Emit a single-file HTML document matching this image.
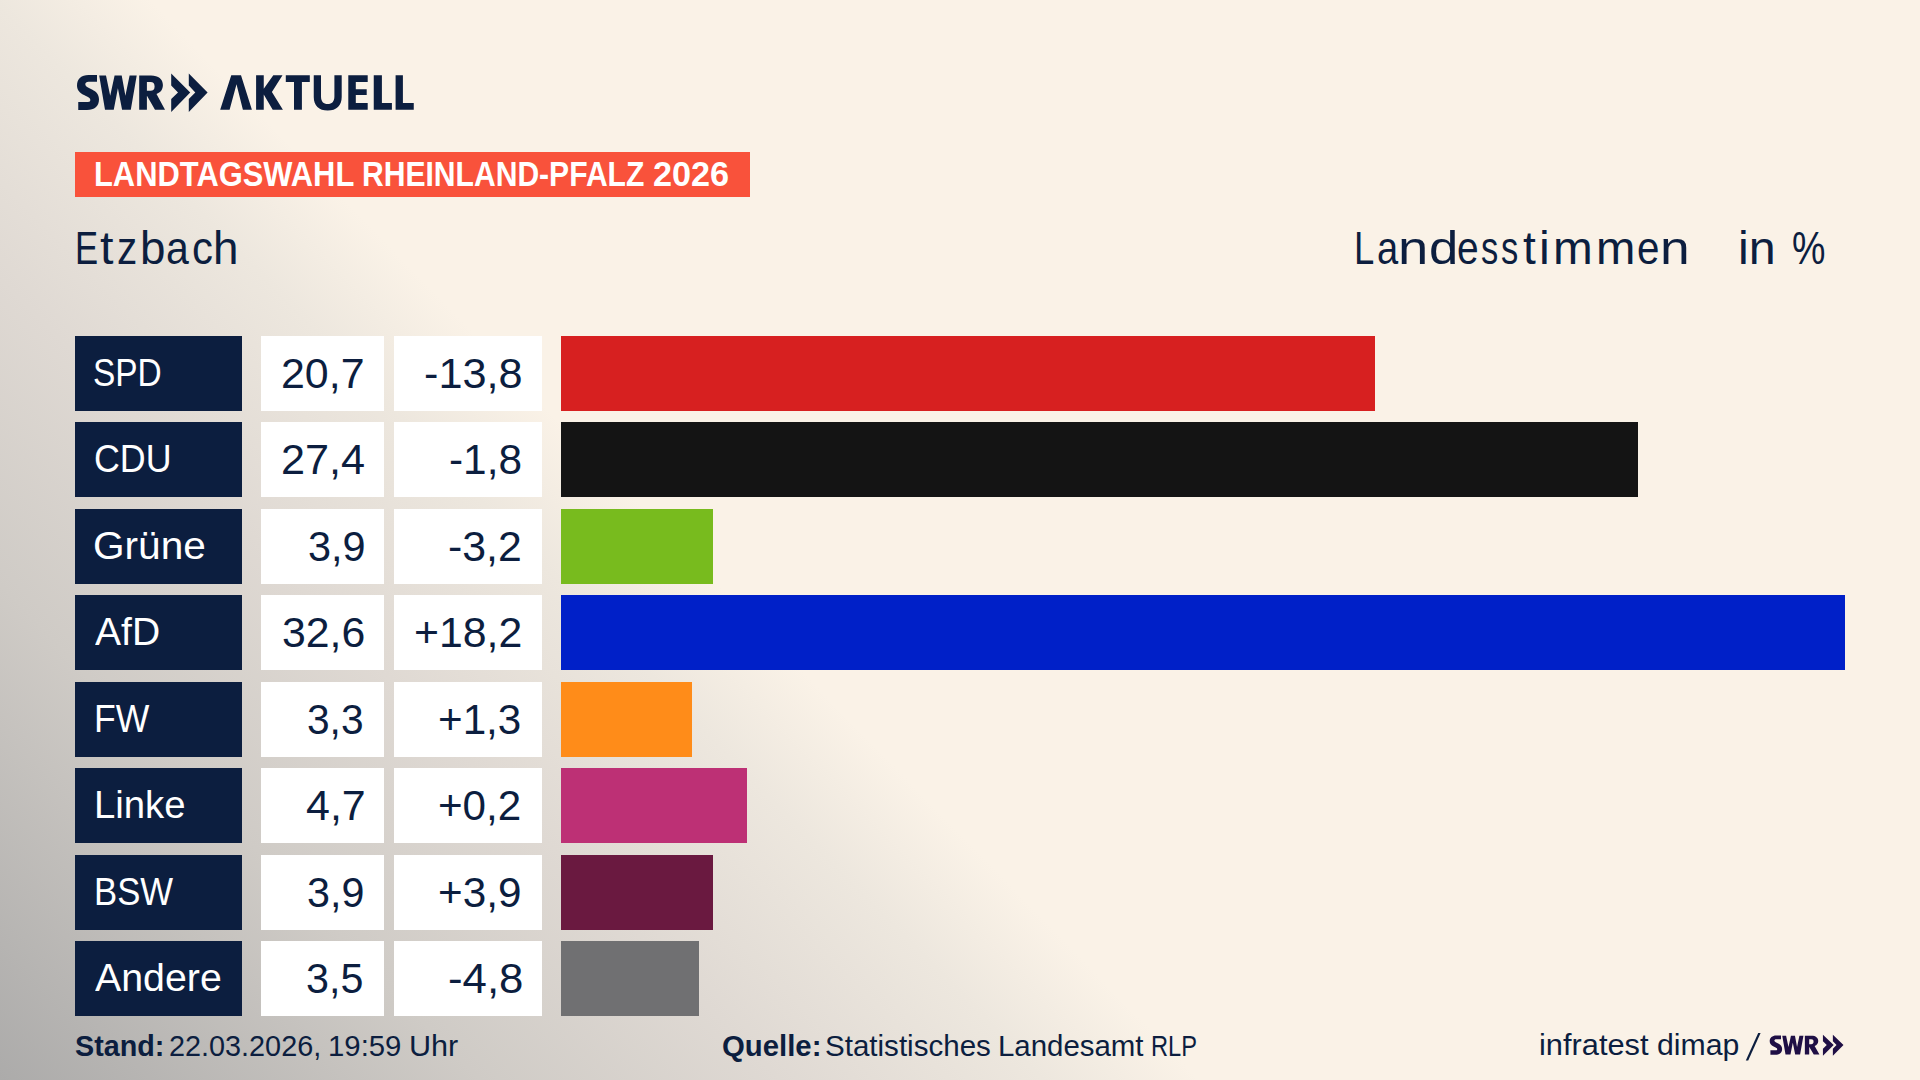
<!DOCTYPE html>
<html><head><meta charset="utf-8">
<style>
html,body{margin:0;padding:0;}
body{width:1920px;height:1080px;overflow:hidden;position:relative;font-family:"Liberation Sans",sans-serif;color:#0c1e3f;background:#faf2e7;}
.bg{position:absolute;left:0;top:0;width:1920px;height:1080px;}
.a{position:absolute;white-space:nowrap;line-height:1;transform-origin:0 0;}
.box{position:absolute;}
</style></head><body>
<svg class="bg" width="1920" height="1080" viewBox="0 0 1920 1080">
<defs>
<linearGradient id="g1" x1="150" y1="0" x2="-466.6" y2="599.4" gradientUnits="userSpaceOnUse">
<stop offset="0" stop-color="#faf2e7"/>
<stop offset="0.13" stop-color="#ede7de"/>
<stop offset="0.35" stop-color="#dfd9d3"/>
<stop offset="0.6" stop-color="#cfcbc6"/>
<stop offset="1" stop-color="#acabaa"/>
</linearGradient>
</defs>
<rect width="1920" height="1080" fill="url(#g1)"/>
</svg>
<svg class="a" style="left:0;top:0" width="500" height="140" viewBox="0 0 500 140">
<g fill="#0c1e3f">
<path d="M97,75 L97,81.7 L88.5,81.7 C86.5,81.7 85.3,82.8 85.3,84.3 C85.3,86 86.5,86.8 88.5,87.8 L92,89.5 C96.5,91.8 99,94.5 99,99.5 C99,106 94.5,110 87,110 L78.25,110 L78.25,102 L88,102 C89.8,102 90.3,101 90.3,100 C90.3,98.5 89.5,97.8 87.5,96.8 L84,95 C79.5,92.8 77,90 77,85.5 C77,79 81.5,75 88.5,75 Z"/>
<path d="M99.2,75.4 L106,75.4 L110.2,95.8 L114.6,75.4 L121.7,75.4 L125.4,95.8 L129.6,75.4 L136.7,75.4 L130.8,109.8 L122.1,109.8 L117.9,88.3 L113.75,109.8 L105,109.8 Z"/>
<path fill-rule="evenodd" d="M139.2,75.4 L151,75.4 C158.5,75.4 162.9,79 162.9,85 C162.9,89.5 160.5,92.5 156.5,94 L165,109.8 L155,109.8 L147.1,96 L146.9,96 L146.9,109.8 L139.2,109.8 Z M146.9,82.1 L146.9,90.8 L150.5,90.8 C153.2,90.8 154.6,89.3 154.6,86.4 C154.6,83.6 153.2,82.1 150.5,82.1 Z"/>
<path d="M171.2,73.6 L190.2,92.5 L171.2,111.9 L171.2,99 L178,92.5 L171.2,85.6 Z"/>
<path d="M188.8,73.6 L207.6,92.5 L188.8,111.9 L188.8,99 L195.3,92.5 L188.8,85.6 Z"/>
<path d="M220.2,109.8 L231.25,75.2 L241,75.2 L251.9,109.8 L242.9,109.8 L236.5,84.2 L229.6,109.8 Z"/>
<path d="M256.1,75.2 L263.75,75.2 L263.75,88.75 L273.3,75.2 L282.5,75.2 L271.9,92.1 L282.9,109.8 L272.7,109.8 L263.75,94.6 L263.75,109.8 L256.1,109.8 Z"/>
<path d="M285.8,75.2 L309.8,75.2 L309.8,81.9 L301.9,81.9 L301.9,109.8 L294,109.8 L294,81.9 L285.8,81.9 Z"/>
<path d="M313.75,75.2 L321,75.2 L321,96.5 C321,101.5 323.5,104 327.7,104 C331.9,104 334.4,101.5 334.4,96.5 L334.4,75.2 L341.7,75.2 L341.7,97 C341.7,105.5 336.5,110.6 327.7,110.6 C318.9,110.6 313.75,105.5 313.75,97 Z"/>
<path d="M348.3,75.2 L367.7,75.2 L367.7,81.9 L355.8,81.9 L355.8,89.2 L366.7,89.2 L366.7,95 L355.8,95 L355.8,103.1 L367.7,103.1 L367.7,109.8 L348.3,109.8 Z"/>
<path d="M373.75,75.2 L381.9,75.2 L381.9,103.1 L391.9,103.1 L391.9,109.8 L373.75,109.8 Z"/>
<path d="M395.6,75.2 L402.9,75.2 L402.9,103.1 L413.75,103.1 L413.75,109.8 L395.6,109.8 Z"/>
</g>
</svg>
<div class="box" style="left:75px;top:152px;width:675px;height:45px;background:#f9523b"></div>
<div class="box" style="left:75px;top:336px;width:167px;height:75px;background:#0c1e3f"></div><div class="box" style="left:261px;top:336px;width:123px;height:75px;background:#fff"></div><div class="box" style="left:394px;top:336px;width:148px;height:75px;background:#fff"></div><div class="box" style="left:561px;top:336px;width:814px;height:75px;background:#d72020"></div>
<div class="box" style="left:75px;top:422px;width:167px;height:75px;background:#0c1e3f"></div><div class="box" style="left:261px;top:422px;width:123px;height:75px;background:#fff"></div><div class="box" style="left:394px;top:422px;width:148px;height:75px;background:#fff"></div><div class="box" style="left:561px;top:422px;width:1077px;height:75px;background:#141414"></div>
<div class="box" style="left:75px;top:509px;width:167px;height:75px;background:#0c1e3f"></div><div class="box" style="left:261px;top:509px;width:123px;height:75px;background:#fff"></div><div class="box" style="left:394px;top:509px;width:148px;height:75px;background:#fff"></div><div class="box" style="left:561px;top:509px;width:152px;height:75px;background:#78bb1e"></div>
<div class="box" style="left:75px;top:595px;width:167px;height:75px;background:#0c1e3f"></div><div class="box" style="left:261px;top:595px;width:123px;height:75px;background:#fff"></div><div class="box" style="left:394px;top:595px;width:148px;height:75px;background:#fff"></div><div class="box" style="left:561px;top:595px;width:1284px;height:75px;background:#0020c8"></div>
<div class="box" style="left:75px;top:682px;width:167px;height:75px;background:#0c1e3f"></div><div class="box" style="left:261px;top:682px;width:123px;height:75px;background:#fff"></div><div class="box" style="left:394px;top:682px;width:148px;height:75px;background:#fff"></div><div class="box" style="left:561px;top:682px;width:131px;height:75px;background:#ff8c19"></div>
<div class="box" style="left:75px;top:768px;width:167px;height:75px;background:#0c1e3f"></div><div class="box" style="left:261px;top:768px;width:123px;height:75px;background:#fff"></div><div class="box" style="left:394px;top:768px;width:148px;height:75px;background:#fff"></div><div class="box" style="left:561px;top:768px;width:186px;height:75px;background:#bd3075"></div>
<div class="box" style="left:75px;top:855px;width:167px;height:75px;background:#0c1e3f"></div><div class="box" style="left:261px;top:855px;width:123px;height:75px;background:#fff"></div><div class="box" style="left:394px;top:855px;width:148px;height:75px;background:#fff"></div><div class="box" style="left:561px;top:855px;width:152px;height:75px;background:#6a1940"></div>
<div class="box" style="left:75px;top:941px;width:167px;height:75px;background:#0c1e3f"></div><div class="box" style="left:261px;top:941px;width:123px;height:75px;background:#fff"></div><div class="box" style="left:394px;top:941px;width:148px;height:75px;background:#fff"></div><div class="box" style="left:561px;top:941px;width:138px;height:75px;background:#707072"></div>
<div class="a" id="p0" style="left:93.37px;top:353.42px;font-size:39.2px;color:#fff;transform:scaleX(0.8534);">SPD</div>
<div class="a" id="v0" style="left:281.38px;top:352.37px;font-size:42.8px;transform:scaleX(1.0026);">20,7</div>
<div class="a" id="d0" style="left:423.76px;top:352.37px;font-size:42.8px;transform:scaleX(1.0106);">-13,8</div>
<div class="a" id="p1" style="left:93.78px;top:439.42px;font-size:39.2px;color:#fff;transform:scaleX(0.9139);">CDU</div>
<div class="a" id="v1" style="left:281.34px;top:438.37px;font-size:42.8px;transform:scaleX(1.0101);">27,4</div>
<div class="a" id="d1" style="left:448.82px;top:438.37px;font-size:42.8px;transform:scaleX(0.9888);">-1,8</div>
<div class="a" id="p2" style="left:93.25px;top:526.42px;font-size:39.2px;color:#fff;transform:scaleX(1.0362);">Grüne</div>
<div class="a" id="v2" style="left:307.94px;top:525.37px;font-size:42.8px;transform:scaleX(0.9681);">3,9</div>
<div class="a" id="d2" style="left:447.80px;top:525.37px;font-size:42.8px;transform:scaleX(1.0002);">-3,2</div>
<div class="a" id="p3" style="left:94.60px;top:612.42px;font-size:39.2px;color:#fff;transform:scaleX(0.9970);">AfD</div>
<div class="a" id="v3" style="left:282.37px;top:611.37px;font-size:42.8px;transform:scaleX(1.0002);">32,6</div>
<div class="a" id="d3" style="left:413.58px;top:611.37px;font-size:42.8px;transform:scaleX(1.0003);">+18,2</div>
<div class="a" id="p4" style="left:94.10px;top:699.42px;font-size:39.2px;color:#fff;transform:scaleX(0.9069);">FW</div>
<div class="a" id="v4" style="left:307.15px;top:698.37px;font-size:42.8px;transform:scaleX(0.9501);">3,3</div>
<div class="a" id="d4" style="left:438.06px;top:698.37px;font-size:42.8px;transform:scaleX(0.9853);">+1,3</div>
<div class="a" id="p5" style="left:93.71px;top:785.42px;font-size:39.2px;color:#fff;transform:scaleX(0.9776);">Linke</div>
<div class="a" id="v5" style="left:305.97px;top:784.37px;font-size:42.8px;transform:scaleX(1.0037);">4,7</div>
<div class="a" id="d5" style="left:438.07px;top:784.37px;font-size:42.8px;transform:scaleX(0.9851);">+0,2</div>
<div class="a" id="p6" style="left:94.21px;top:872.42px;font-size:39.2px;color:#fff;transform:scaleX(0.8861);">BSW</div>
<div class="a" id="v6" style="left:307.12px;top:871.37px;font-size:42.8px;transform:scaleX(0.9643);">3,9</div>
<div class="a" id="d6" style="left:438.05px;top:871.37px;font-size:42.8px;transform:scaleX(0.9877);">+3,9</div>
<div class="a" id="p7" style="left:94.60px;top:958.42px;font-size:39.2px;color:#fff;transform:scaleX(1.0032);">Andere</div>
<div class="a" id="v7" style="left:306.14px;top:957.37px;font-size:42.8px;transform:scaleX(0.9643);">3,5</div>
<div class="a" id="d7" style="left:447.72px;top:957.37px;font-size:42.8px;transform:scaleX(1.0229);">-4,8</div>
<div class="a" id="ban1" style="left:93.55px;top:157.20px;font-size:34.5px;font-weight:bold;color:#fff;transform:scaleX(0.8955);">LANDTAGSWAHL</div>
<div class="a" id="ban2" style="left:361.60px;top:157.20px;font-size:34.5px;font-weight:bold;color:#fff;transform:scaleX(0.8717);">RHEINLAND-PFALZ</div>
<div class="a" id="ban3" style="left:653.01px;top:157.20px;font-size:34.5px;font-weight:bold;color:#fff;transform:scaleX(0.9921);">2026</div>
<div class="a" id="etz0" style="left:74.74px;top:224.89px;font-size:46.2px;transform:scaleX(0.7500);">E</div>
<div class="a" id="etz1" style="left:100.23px;top:224.89px;font-size:46.2px;transform:scaleX(1.0500);">t</div>
<div class="a" id="etz2" style="left:117.45px;top:224.89px;font-size:46.2px;transform:scaleX(0.8756);">z</div>
<div class="a" id="etz3" style="left:139.90px;top:224.89px;font-size:46.2px;transform:scaleX(0.9914);">b</div>
<div class="a" id="etz4" style="left:166.45px;top:224.89px;font-size:46.2px;transform:scaleX(0.8873);">a</div>
<div class="a" id="etz5" style="left:191.52px;top:224.89px;font-size:46.2px;transform:scaleX(0.9065);">c</div>
<div class="a" id="etz6" style="left:212.90px;top:224.89px;font-size:46.2px;transform:scaleX(0.9910);">h</div>
<div class="a" id="lan0" style="left:1354.47px;top:224.73px;font-size:46.1px;transform:scaleX(0.7913);">L</div>
<div class="a" id="lan1" style="left:1376.60px;top:224.73px;font-size:46.1px;transform:scaleX(0.8262);">a</div>
<div class="a" id="lan2" style="left:1397.75px;top:224.73px;font-size:46.1px;transform:scaleX(1.1803);">n</div>
<div class="a" id="lan3" style="left:1428.54px;top:224.73px;font-size:46.1px;transform:scaleX(1.1429);">d</div>
<div class="a" id="lan4" style="left:1457.13px;top:224.73px;font-size:46.1px;transform:scaleX(0.8434);">e</div>
<div class="a" id="lan5" style="left:1481.12px;top:224.73px;font-size:46.1px;transform:scaleX(0.7500);">s</div>
<div class="a" id="lan6" style="left:1501.28px;top:224.73px;font-size:46.1px;transform:scaleX(0.7500);">s</div>
<div class="a" id="lan7" style="left:1523.00px;top:224.73px;font-size:46.1px;">t</div>
<div class="a" id="lan8" style="left:1538.80px;top:224.73px;font-size:46.1px;transform:scaleX(1.0500);">i</div>
<div class="a" id="lan9" style="left:1553.31px;top:224.73px;font-size:46.1px;transform:scaleX(1.0350);">m</div>
<div class="a" id="lan10" style="left:1595.79px;top:224.73px;font-size:46.1px;transform:scaleX(1.0255);">m</div>
<div class="a" id="lan11" style="left:1637.37px;top:224.73px;font-size:46.1px;transform:scaleX(0.8746);">e</div>
<div class="a" id="lan12" style="left:1660.18px;top:224.73px;font-size:46.1px;transform:scaleX(1.1579);">n</div>
<div class="a" id="inp1" style="left:1738.19px;top:224.98px;font-size:46.1px;transform:scaleX(1.0500);">in</div>
<div class="a" id="inp2" style="left:1791.65px;top:224.98px;font-size:46.1px;transform:scaleX(0.8158);">%</div>
<div class="a" id="st1" style="left:75.03px;top:1031.95px;font-size:29px;font-weight:bold;transform:scaleX(0.9908);">Stand:</div>
<div class="a" id="st2a" style="left:169.01px;top:1031.95px;font-size:29px;transform:scaleX(0.9933);">22.03.2026,</div>
<div class="a" id="st2b" style="left:327.94px;top:1031.95px;font-size:29px;transform:scaleX(1.0117);">19:59</div>
<div class="a" id="st2c" style="left:408.73px;top:1031.95px;font-size:29px;transform:scaleX(1.0546);">Uhr</div>
<div class="a" id="qu1" style="left:722.39px;top:1032.35px;font-size:29px;font-weight:bold;transform:scaleX(1.0117);">Quelle:</div>
<div class="a" id="qu2a" style="left:824.94px;top:1032.35px;font-size:29px;transform:scaleX(1.0188);">Statistisches</div>
<div class="a" id="qu2b" style="left:997.92px;top:1032.35px;font-size:29px;transform:scaleX(1.0142);">Landesamt</div>
<div class="a" id="qu2c" style="left:1150.75px;top:1032.35px;font-size:29px;transform:scaleX(0.8154);">RLP</div>
<div class="a" id="infa" style="left:1538.78px;top:1031.45px;font-size:29px;transform:scaleX(1.0614);">infratest</div>
<div class="a" id="infb" style="left:1656.85px;top:1031.45px;font-size:29px;transform:scaleX(1.0423);">dimap</div>
<svg class="a" style="left:0;top:0" width="1920" height="1080" viewBox="0 0 1920 1080">
<path d="M1745.8,1060.6 L1748.2,1060.6 L1760.6,1033.1 L1758.2,1033.1 Z" fill="#0c1e3f"/>
<g fill="#1f0f45" transform="translate(1726.2,994.2) scale(0.565,0.55)"><path d="M97,75 L97,81.7 L88.5,81.7 C86.5,81.7 85.3,82.8 85.3,84.3 C85.3,86 86.5,86.8 88.5,87.8 L92,89.5 C96.5,91.8 99,94.5 99,99.5 C99,106 94.5,110 87,110 L78.25,110 L78.25,102 L88,102 C89.8,102 90.3,101 90.3,100 C90.3,98.5 89.5,97.8 87.5,96.8 L84,95 C79.5,92.8 77,90 77,85.5 C77,79 81.5,75 88.5,75 Z"/><path d="M99.2,75.4 L106,75.4 L110.2,95.8 L114.6,75.4 L121.7,75.4 L125.4,95.8 L129.6,75.4 L136.7,75.4 L130.8,109.8 L122.1,109.8 L117.9,88.3 L113.75,109.8 L105,109.8 Z"/><path fill-rule="evenodd" d="M139.2,75.4 L151,75.4 C158.5,75.4 162.9,79 162.9,85 C162.9,89.5 160.5,92.5 156.5,94 L165,109.8 L155,109.8 L147.1,96 L146.9,96 L146.9,109.8 L139.2,109.8 Z M146.9,82.1 L146.9,90.8 L150.5,90.8 C153.2,90.8 154.6,89.3 154.6,86.4 C154.6,83.6 153.2,82.1 150.5,82.1 Z"/><path d="M171.2,73.6 L190.2,92.5 L171.2,111.9 L171.2,99 L178,92.5 L171.2,85.6 Z"/><path d="M188.8,73.6 L207.6,92.5 L188.8,111.9 L188.8,99 L195.3,92.5 L188.8,85.6 Z"/></g>
</svg>
</body></html>
